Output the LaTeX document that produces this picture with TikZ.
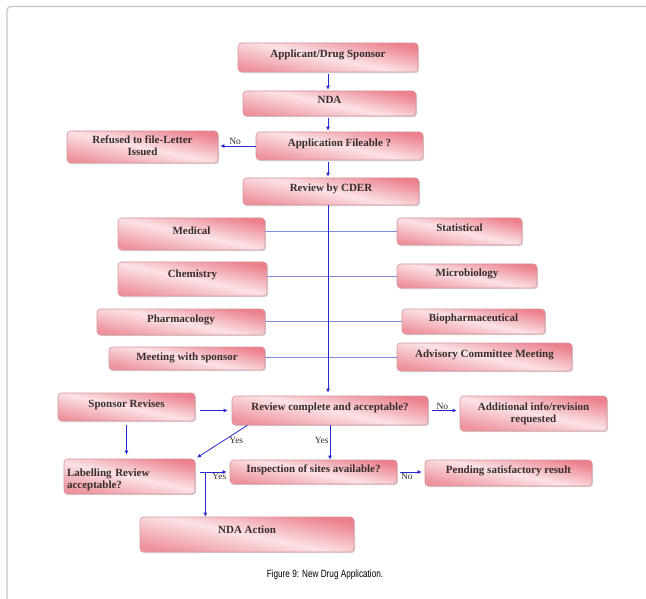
\documentclass[tikz,border=0pt]{standalone}
\usepackage{fontspec}
\setmainfont{Liberation Serif}
\newfontfamily\capfont[FakeStretch=0.78]{Liberation Sans}
\usetikzlibrary{arrows.meta,calc,shadows}
\definecolor{boxtop}{RGB}{236,128,140}
\definecolor{boxmid}{RGB}{251,226,229}
\definecolor{boxbot}{RGB}{238,146,156}
\definecolor{boxedge}{RGB}{210,150,156}
\definecolor{boxtext}{RGB}{55,45,45}
\definecolor{linkblue}{RGB}{40,40,210}
\definecolor{sideblue}{RGB}{130,140,220}
\begin{document}
\begin{tikzpicture}[x=1pt,y=-1pt,
    stepbox/.style={draw=boxedge, line width=0.6pt, rounded corners=3.5pt,
      top color=boxtop, bottom color=boxbot, middle color=boxmid, shading angle=-12,
      drop shadow={shadow xshift=1.2pt, shadow yshift=-1.2pt, opacity=0.3},
      text=boxtext, font=\fontsize{11}{12}\selectfont\bfseries, align=center,
      inner sep=2pt, text depth=7pt},
    link/.style={linkblue, line width=0.8pt, -{Latex[length=4pt,width=4pt]}},
    sideline/.style={sideblue, line width=1pt},
    tag/.style={text=boxtext, font=\fontsize{9.5}{10}\selectfont, inner sep=1pt}]
  \useasboundingbox (0,0) rectangle (646,599);
  \draw[gray!45, line width=1.3pt, rounded corners=4pt] (646,6.5) -- (7,6.5) -- (7,599);

  \node[stepbox, minimum width=180pt, minimum height=29pt] (app) at (328,57.5) {Applicant/Drug Sponsor};
  \node[stepbox, minimum width=173pt, minimum height=25pt] (nda) at (329.5,103.5) {NDA};
  \node[stepbox, minimum width=167pt, minimum height=28pt] (file) at (339.5,146) {Application Fileable ?};
  \node[stepbox, minimum width=151pt, minimum height=32pt, text depth=2pt] (refused) at (142.5,147) {Refused to file-Letter\\Issued};
  \node[stepbox, minimum width=176pt, minimum height=27pt] (cder) at (331,191.5) {Review by CDER};

  \node[stepbox, minimum width=147pt, minimum height=32pt] (med) at (191.5,234) {Medical};
  \node[stepbox, minimum width=125pt, minimum height=27pt] (stat) at (459.5,231.5) {Statistical};
  \node[stepbox, minimum width=149pt, minimum height=34pt, text depth=10pt] (chem) at (192.5,279) {Chemistry};
  \node[stepbox, minimum width=140pt, minimum height=24pt] (micro) at (467,276) {Microbiology};
  \node[stepbox, minimum width=168pt, minimum height=26pt] (pharm) at (181,322) {Pharmacology};
  \node[stepbox, minimum width=143pt, minimum height=25pt] (bio) at (473.5,321.5) {Biopharmaceutical};
  \node[stepbox, minimum width=156pt, minimum height=23pt, text depth=3pt] (meet) at (187,358.5) {Meeting with sponsor};
  \node[stepbox, minimum width=175pt, minimum height=28pt] (adv) at (484.5,357) {Advisory Committee Meeting};

  \node[stepbox, minimum width=137pt, minimum height=28pt] (sponsor) at (126.5,407) {Sponsor Revises};
  \node[stepbox, minimum width=196pt, minimum height=29pt] (review) at (330,410.5) {Review complete and acceptable?};
  \node[stepbox, minimum width=147pt, minimum height=35pt, text depth=2pt] (addl) at (533.5,413.5) {Additional info/revision\\requested};
  \node[stepbox, minimum width=131pt, minimum height=35pt, align=left, text width=125pt, text depth=8pt] (label) at (129.5,476.5) {Labelling Review\\acceptable?};
  \node[stepbox, minimum width=167pt, minimum height=24pt] (insp) at (313.5,472) {Inspection of sites available?};
  \node[stepbox, minimum width=167pt, minimum height=26pt] (pend) at (508.5,473) {Pending satisfactory result};
  \node[stepbox, minimum width=214pt, minimum height=35pt, text depth=10pt] (action) at (247,534.5) {NDA Action};

  \coordinate (spine) at (app.south);
  \foreach \a/\b in {med/stat,chem/micro,pharm/bio,meet/adv}{
    \draw[sideline] (\b.west -| \a.east) -- (\b.west);
  }

  \draw[link, shorten <=2pt, shorten >=1pt] (spine) -- (spine |- nda.north);
  \draw[link, shorten <=2pt, shorten >=1pt] (nda.south -| spine) -- (spine |- file.north);
  \draw[link, shorten >=2pt] (file.west) -- node[tag, above, pos=0.55] {No} (file.west -| refused.east);
  \draw[link, shorten <=2pt, shorten >=1pt] (file.south -| spine) -- (spine |- cder.north);
  \draw[link, shorten >=3pt] (cder.south -| spine) -- (spine |- review.north);

  \draw[link, shorten <=5pt, shorten >=4pt] (sponsor.east |- review.west) -- (review.west);
  \draw[link, shorten <=4pt, shorten >=4pt] (sponsor.south) -- (label.north -| sponsor.south);
  \draw[link, shorten >=2pt] ($(review.south west)!0.08!(review.south east)$) -- node[tag, right, pos=0.45, xshift=4pt] {Yes} (label.north east);
  \draw[link] (review.south) -- node[tag, left, pos=0.45] {Yes} (review.south |- insp.north);
  \draw[link, shorten <=4pt, shorten >=3pt] (review.east) -- node[tag, above, pos=0.45] {No} (review.east -| addl.west);

  \draw[link, shorten <=5pt, shorten >=3pt] (label.east |- insp.west) -- node[tag, below, pos=0.7] {Yes} (insp.west);
  \coordinate (fork) at ($(label.east |- insp.west)+(10,0)$);
  \draw[link] (fork) -- (fork |- action.north);
  \draw[link, shorten <=3pt, shorten >=3pt] (insp.east) -- node[tag, below, pos=0.35] {No} (insp.east -| pend.west);

  \node[font=\capfont\fontsize{10.5}{12}\selectfont] (caption) at (325,575) {Figure 9: New Drug Application.};
\end{tikzpicture}
\end{document}
